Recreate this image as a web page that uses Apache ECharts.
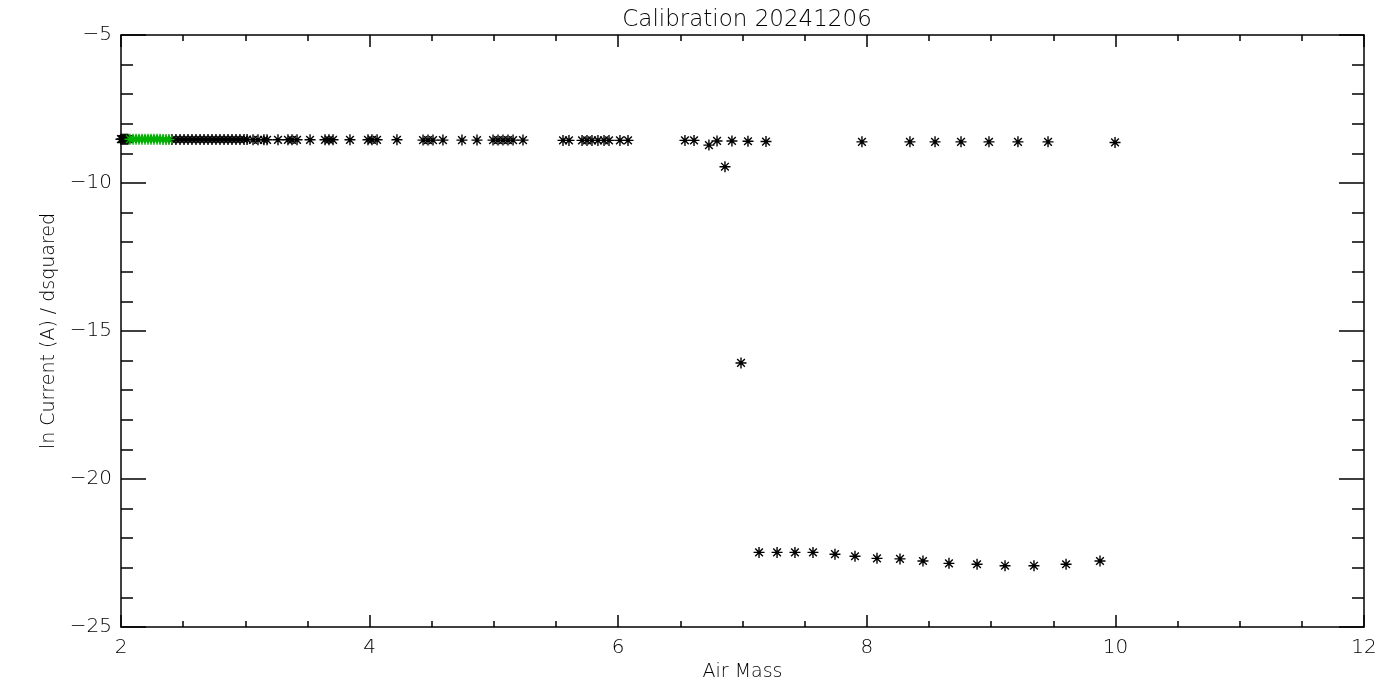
<!DOCTYPE html>
<html>
<head>
<meta charset="utf-8">
<script src="https://cdn.jsdelivr.net/npm/echarts@6/dist/echarts.min.js"></script>
<style>html,body{margin:0;padding:0;background:#fff;}#c{width:1400px;height:700px;}</style>
</head>
<body>
<div id="c"></div>
<script>
// Upper branch (black), air mass and ln current
const upperX = [2.000,2.008,2.016,2.024,2.032,2.040,2.048,2.056,
  2.410,2.442,2.475,2.507,2.539,2.571,2.603,2.636,2.668,2.700,2.732,2.764,2.796,2.829,2.861,2.893,2.925,2.957,2.990,3.014,
  3.062,3.102,3.150,3.175,3.263,3.343,3.376,3.416,3.521,3.641,3.673,3.706,3.842,3.987,4.019,4.060,4.220,4.430,4.470,4.510,4.590,
  4.743,4.864,4.993,5.033,5.073,5.113,5.154,5.234,5.556,5.604,5.709,5.749,5.789,5.837,5.886,5.926,6.014,6.079,
  6.537,6.610,6.730,6.795,6.859,6.915,6.988,7.044,7.189,7.961,8.347,8.549,8.758,8.983,9.216,9.458,9.997];
const upperY = [-8.52,-8.52,-8.52,-8.52,-8.52,-8.52,-8.52,-8.52,
  -8.53,-8.53,-8.53,-8.53,-8.53,-8.53,-8.53,-8.53,-8.53,-8.53,-8.53,-8.53,-8.53,-8.53,-8.53,-8.53,-8.53,-8.53,-8.53,-8.53,
  -8.54,-8.54,-8.54,-8.54,-8.54,-8.54,-8.54,-8.54,-8.54,-8.54,-8.54,-8.54,-8.54,-8.54,-8.54,-8.54,-8.54,-8.55,-8.55,-8.55,-8.55,
  -8.55,-8.55,-8.55,-8.55,-8.55,-8.55,-8.55,-8.55,-8.56,-8.56,-8.56,-8.56,-8.56,-8.56,-8.56,-8.56,-8.56,-8.56,
  -8.56,-8.56,-8.72,-8.58,-9.45,-8.58,-16.08,-8.59,-8.60,-8.61,-8.61,-8.61,-8.61,-8.61,-8.61,-8.61,-8.63];
// Green calibration-window points
const greenX = [2.072,2.097,2.121,2.145,2.169,2.193,2.217,2.241,2.265,2.290,2.314,2.338,2.362,2.386];
const greenY = [-8.52,-8.52,-8.52,-8.52,-8.52,-8.52,-8.52,-8.52,-8.52,-8.52,-8.52,-8.53,-8.53,-8.53];
// Lower branch (black)
const lowerX = [7.133,7.278,7.422,7.567,7.744,7.905,8.082,8.267,8.452,8.661,8.887,9.112,9.345,9.603,9.876];
const lowerY = [-22.48,-22.48,-22.48,-22.48,-22.54,-22.61,-22.68,-22.70,-22.77,-22.85,-22.88,-22.93,-22.93,-22.88,-22.77];

const titleText = 'Calibration 20241206';
const xName = 'Air Mass';
const yName = 'ln Current (A) / dsquared';

const zip = (a, b) => a.map((v, i) => [v, b[i]]);
const star = 'path://M0,5 L10,5 M5,0 L5,10 M1.5,1.5 L8.5,8.5 M1.5,8.5 L8.5,1.5';
const font = 'DejaVu Sans';
const fw = 200;
const fmt = v => String(v).replace('-', '\u2212');

function sc(data, color) {
  return {
    type: 'scatter', data: data, symbol: star, symbolSize: 11, symbolKeepAspect: true,
    xAxisIndex: 0, yAxisIndex: 0,
    itemStyle: { color: 'rgba(0,0,0,0)', borderColor: color, borderWidth: 1.4, opacity: 1 },
    emphasis: { disabled: true }, animation: false
  };
}

const xCommon = { type: 'value', min: 2, max: 12, interval: 2,
  axisLine: { show: true, onZero: false, lineStyle: { color: '#000', width: 1.5 } },
  axisTick: { show: true, inside: true, length: 12, lineStyle: { color: '#000', width: 1.5 } },
  minorTick: { show: true, splitNumber: 4, length: 6, lineStyle: { color: '#000', width: 1.5 } },
  splitLine: { show: false } };
const yCommon = { type: 'value', min: -25, max: -5, interval: 5,
  axisLine: { show: true, onZero: false, lineStyle: { color: '#000', width: 1.5 } },
  axisTick: { show: true, inside: true, length: 25, lineStyle: { color: '#000', width: 1.5 } },
  minorTick: { show: true, splitNumber: 5, length: 12, lineStyle: { color: '#000', width: 1.5 } },
  splitLine: { show: false } };

const chart = echarts.init(document.getElementById('c'), null, { renderer: 'canvas' });
chart.setOption({
  backgroundColor: '#fff',
  animation: false,
  title: { text: titleText, left: 742, top: 4, textAlign: 'center',
    textStyle: { fontFamily: font, fontWeight: fw, fontSize: 23, color: '#000' } },
  grid: { left: 121, right: 36, top: 35, bottom: 73 },
  xAxis: [
    Object.assign({}, xCommon, { position: 'bottom', name: xName, nameLocation: 'middle', nameGap: 35,
      nameTextStyle: { fontFamily: font, fontWeight: fw, fontSize: 19, color: '#000' },
      axisLabel: { show: true, margin: 11, color: '#000', fontFamily: font, fontWeight: fw, fontSize: 20, formatter: fmt } }),
    Object.assign({}, xCommon, { position: 'top', axisLabel: { show: false } })
  ],
  yAxis: [
    Object.assign({}, yCommon, { position: 'left', name: yName, nameLocation: 'middle', nameGap: 62,
      nameTextStyle: { fontFamily: font, fontWeight: fw, fontSize: 19, color: '#000' },
      axisLabel: { show: true, margin: 9, color: '#000', fontFamily: font, fontWeight: fw, fontSize: 20, formatter: fmt } }),
    Object.assign({}, yCommon, { position: 'right', axisLabel: { show: false } })
  ],
  series: [
    sc(zip(upperX, upperY), '#000'),
    sc(zip(lowerX, lowerY), '#000'),
    sc(zip(greenX, greenY), '#00b000')
  ]
});
</script>
</body>
</html>
